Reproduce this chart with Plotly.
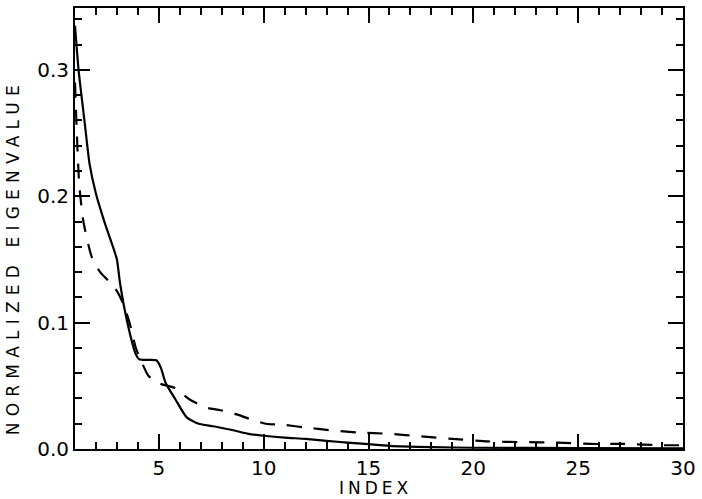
import plotly.graph_objects as go

# Solid curve
solid_x = [1.0, 1.17, 1.45, 1.7, 2.0, 2.4, 2.87, 3.0, 3.15, 3.5, 3.9, 4.06, 4.5, 4.9, 5.1, 5.33, 5.8, 6.33, 6.9, 7.6, 8.5, 9.27, 10.0, 11.0, 12.0, 13.0, 14.0, 15.0, 16.0, 18.0, 20.0, 25.0, 30.0]
solid_y = [0.335, 0.30, 0.26, 0.225, 0.202, 0.18, 0.157, 0.15, 0.131, 0.10, 0.075, 0.071, 0.0705, 0.070, 0.064, 0.052, 0.039, 0.025, 0.020, 0.018, 0.015, 0.012, 0.0105, 0.009, 0.008, 0.0065, 0.005, 0.0038, 0.0025, 0.0015, 0.001, 0.0007, 0.0005]

# Dashed curve
dash_x = [1.0, 1.2, 1.4, 1.8, 2.2, 2.6, 3.0, 3.3, 3.6, 3.9, 4.1, 4.5, 5.0, 5.8, 6.4, 7.2, 7.85, 8.6, 9.3, 10.1, 11.0, 12.0, 13.4, 14.5, 16.0, 17.5, 19.0, 20.7, 22.3, 24.0, 25.6, 27.2, 29.0, 30.0]
dash_y = [0.29, 0.21, 0.18, 0.152, 0.14, 0.133, 0.125, 0.115, 0.10, 0.08, 0.072, 0.058, 0.052, 0.048, 0.040, 0.033, 0.031, 0.028, 0.024, 0.020, 0.019, 0.017, 0.0145, 0.013, 0.012, 0.010, 0.008, 0.006, 0.0055, 0.005, 0.004, 0.004, 0.003, 0.003]

x_ticks = [5, 10, 15, 20, 25, 30]
y_ticks = [0.0, 0.1, 0.2, 0.3]
y_tick_text = ["0.0", "0.1", "0.2", "0.3"]

FONT = "DejaVu Sans"

fig = go.Figure()
fig.add_trace(go.Scatter(x=solid_x, y=solid_y, mode="lines",
                         line=dict(color="black", width=2.2, shape="spline", smoothing=0.6),
                         showlegend=False))
fig.add_trace(go.Scatter(x=dash_x, y=dash_y, mode="lines",
                         line=dict(color="black", width=2.2, dash="15px,12px", shape="spline", smoothing=0.6),
                         showlegend=False))

fig.update_layout(
    width=702, height=499,
    margin=dict(l=75, r=14, t=6, b=50),
    paper_bgcolor="white", plot_bgcolor="white",
    font=dict(family=FONT, color="black", size=19),
    xaxis=dict(range=[1, 30], tickvals=x_ticks, ticks="inside", ticklen=15, tickwidth=2,
               tickcolor="black", showline=True, linewidth=2, linecolor="black",
               mirror="allticks", showgrid=False, zeroline=False,
               tickfont=dict(size=20, family=FONT),
               minor=dict(dtick=1, ticks="inside", ticklen=7, tickwidth=2, tickcolor="black", showgrid=False)),
    yaxis=dict(range=[0, 0.349], tickvals=y_ticks, ticktext=y_tick_text, ticks="inside", ticklen=15,
               tickwidth=2, tickcolor="black", showline=True, linewidth=2, linecolor="black",
               mirror="allticks", showgrid=False, zeroline=False,
               tickfont=dict(size=20, family=FONT),
               minor=dict(dtick=0.02, ticks="inside", ticklen=7, tickwidth=2, tickcolor="black", showgrid=False)),
    annotations=[
        dict(text="INDEX", xref="paper", yref="paper", x=0.495, y=-0.089,
             xanchor="center", yanchor="middle", showarrow=False, font=dict(size=17, family=FONT)),
        dict(text="NORMALIZED EIGENVALUE", xref="paper", yref="paper", x=-0.103, y=0.436,
             xanchor="center", yanchor="middle", textangle=-90, showarrow=False,
             font=dict(size=17, family=FONT)),
    ],
)

post = """
document.body.style.margin = '0';
document.body.style.padding = '0';
var ts = document.querySelectorAll('.annotation-text');
ts.forEach(function(t){
  var s = t.textContent;
  if (s === 'INDEX') { t.setAttribute('letter-spacing', '4px'); }
  if (s === 'NORMALIZED EIGENVALUE') { t.setAttribute('letter-spacing', '6.2px'); }
});
"""

fig.write_html("out.html", post_script=post, config={"displayModeBar": False})
